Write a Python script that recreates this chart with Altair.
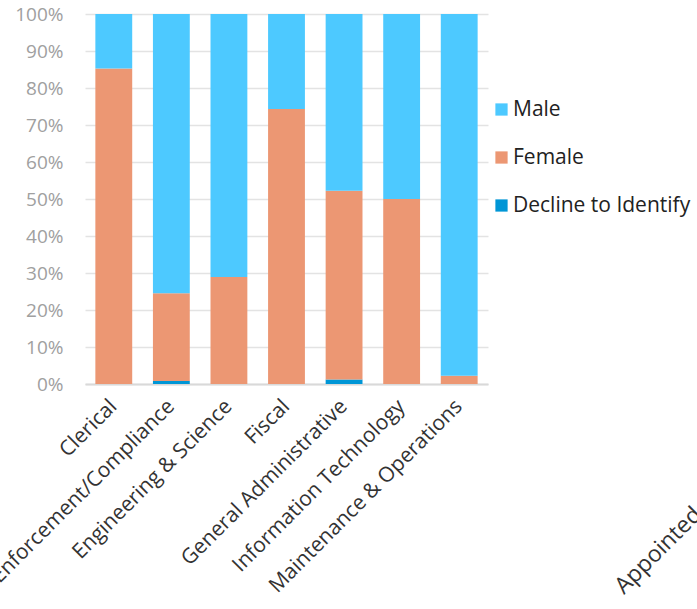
import altair as alt
import pandas as pd

categories = ["Clerical", "Law Enforcement/Compliance", "Engineering & Science", "Fiscal",
              "General Administrative", "Information Technology", "Maintenance & Operations"]
decline = [0.0, 0.8, 0.0, 0.0, 1.2, 0.0, 0.0]
female = [85.3, 23.7, 28.9, 74.3, 51.0, 50.0, 2.2]
male = [14.7, 75.5, 71.1, 25.7, 47.8, 50.0, 97.8]
series = ["Male", "Female", "Decline to Identify"]
colors = ["#4DC9FF", "#EC9773", "#0096D6"]
extra_label = "Appointed"

rows = []
for i, c in enumerate(categories):
    rows.append({"cat": c, "series": "Decline to Identify", "val": decline[i] / 100, "ord": 0})
    rows.append({"cat": c, "series": "Female", "val": female[i] / 100, "ord": 1})
    rows.append({"cat": c, "series": "Male", "val": male[i] / 100, "ord": 2})
df = pd.DataFrame(rows)

FONT = "Open Sans"

bars = alt.Chart(df).mark_bar().encode(
    x=alt.X("cat:N", sort=categories, title=None,
            scale=alt.Scale(paddingInner=0.36, paddingOuter=0.18),
            axis=alt.Axis(labelAngle=-45, labelAlign="right", labelBaseline="middle",
                          labelFontSize=21, labelColor="#333333", labelFont=FONT,
                          ticks=False, domainColor="#D9D9D9", domainWidth=2,
                          labelPadding=19, labelLimit=500)),
    y=alt.Y("val:Q", stack="zero", title=None,
            scale=alt.Scale(domain=[0, 1]),
            axis=alt.Axis(format=".0%", values=[i / 10 for i in range(11)],
                          labelFontSize=19, labelColor="#A0A0A0", labelFont=FONT,
                          ticks=False, domain=False, gridColor="#E3E3E3", gridWidth=1.5,
                          labelPadding=22)),
    color=alt.Color("series:N", scale=alt.Scale(domain=series, range=colors),
                    legend=alt.Legend(title=None, orient="none", legendX=406, legendY=85,
                                      symbolType="square", symbolSize=150, symbolStrokeWidth=0,
                                      labelFontSize=21, labelColor="#222222", labelFont=FONT,
                                      rowPadding=26, labelOffset=1, labelLimit=300)),
    order=alt.Order("ord:Q"),
)

extra = alt.Chart(pd.DataFrame({"t": [extra_label]})).mark_text(
    angle=315, align="left", baseline="alphabetic", fontSize=23, font=FONT, color="#333333"
).encode(text="t:N", x=alt.value(539), y=alt.value(581))

chart = alt.layer(bars, extra).properties(
    width=403, height=370,
    autosize=alt.AutoSizeParams(type="none"),
    padding={"left": 85, "top": 14, "right": 209, "bottom": 225},
).configure_view(stroke=None)

chart.save("out.html", embed_options={"renderer": "svg", "actions": False})
